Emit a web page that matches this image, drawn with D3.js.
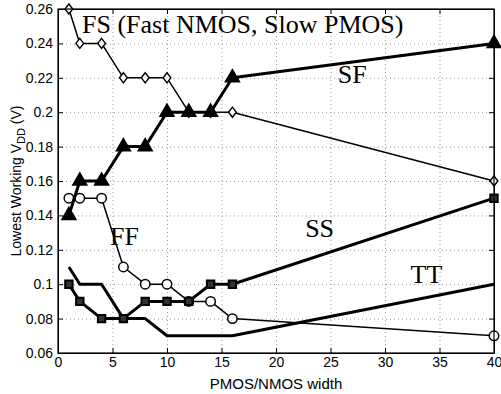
<!DOCTYPE html>
<html>
<head>
	<script src="https://d3js.org/d3.v7.min.js"></script>
	<style>
		body { margin: 0; background: #fff; }
		.tick text { font-family: "Liberation Sans", Arial, sans-serif; font-size: 14px; fill: #000; }
		.grid line { stroke: #999; stroke-dasharray: 1,3; }
		.lbl { font-family: "Liberation Serif", "Times New Roman", serif; fill: #000; }
	</style>
</head>
<body>
	<div class="chart"></div>
	<script>
		var w = 501, h = 394;
		var margin = {left: 58, right: 7, top: 9, bottom: 41};

		// data
		var widths = [1, 2, 4, 6, 8, 10, 12, 14, 16, 40];
		var fs = [0.26, 0.24, 0.24, 0.22, 0.22, 0.22, 0.20, 0.20, 0.20, 0.16];
		var sf = [0.14, 0.16, 0.16, 0.18, 0.18, 0.20, 0.20, 0.20, 0.22, 0.24];
		var ff = [0.15, 0.15, 0.15, 0.11, 0.10, 0.10, 0.09, 0.09, 0.08, 0.07];
		var ss = [0.10, 0.09, 0.08, 0.08, 0.09, 0.09, 0.09, 0.10, 0.10, 0.15];
		var tt = [0.11, 0.10, 0.10, 0.08, 0.08, 0.07, 0.07, 0.07, 0.07, 0.10];
		var xTicks = [0, 5, 10, 15, 20, 25, 30, 35, 40];
		var yTicks = [0.06, 0.08, 0.1, 0.12, 0.14, 0.16, 0.18, 0.2, 0.22, 0.24, 0.26];

		var svg = d3.select(".chart").append("svg")
			.attr("width", w)
			.attr("height", h);

		var x = d3.scaleLinear().domain([0, 40]).range([margin.left, w - margin.right]);
		var y = d3.scaleLinear().domain([0.06, 0.26]).range([h - margin.bottom, margin.top]);
		var pw = x(40) - x(0), ph = y(0.06) - y(0.26);

		// grid
		svg.append("g").attr("class", "grid")
			.attr("transform", "translate(0," + y(0.06) + ")")
			.call(d3.axisBottom(x).tickValues(xTicks).tickSize(-ph).tickFormat(""))
			.call(g => g.select(".domain").remove());
		svg.append("g").attr("class", "grid")
			.attr("transform", "translate(" + x(0) + ",0)")
			.call(d3.axisLeft(y).tickValues(yTicks).tickSize(-pw).tickFormat(""))
			.call(g => g.select(".domain").remove());

		// axes with inward ticks on all four sides
		var fmt = d3.format("");
		svg.append("g")
			.attr("transform", "translate(0," + y(0.06) + ")")
			.call(d3.axisBottom(x).tickValues(xTicks).tickSizeInner(-5).tickSizeOuter(0).tickPadding(4).tickFormat(fmt));
		svg.append("g")
			.attr("transform", "translate(0," + y(0.26) + ")")
			.call(d3.axisTop(x).tickValues(xTicks).tickSizeInner(-5).tickSizeOuter(0).tickFormat(""));
		svg.append("g")
			.attr("transform", "translate(" + x(0) + ",0)")
			.call(d3.axisLeft(y).tickValues(yTicks).tickSizeInner(-5).tickSizeOuter(0).tickPadding(5).tickFormat(fmt));
		svg.append("g")
			.attr("transform", "translate(" + x(40) + ",0)")
			.call(d3.axisRight(y).tickValues(yTicks).tickSizeInner(-5).tickSizeOuter(0).tickFormat(""));
		svg.selectAll(".domain").attr("stroke", "#000");

		var line = d3.line().x(d => x(d[0])).y(d => y(d[1]));
		function pts(vals) { return widths.map((v, i) => [v, vals[i]]); }

		function series(vals, lw, shape, size, fill, sw) {
			svg.append("path").datum(pts(vals))
				.attr("d", line)
				.attr("fill", "none")
				.attr("stroke", "#000")
				.attr("stroke-width", lw)
				.attr("stroke-linejoin", "round");
			if (!shape) return;
			svg.append("g").selectAll("path")
				.data(pts(vals))
				.enter().append("path")
				.attr("d", d3.symbol().type(shape).size(size))
				.attr("transform", d => "translate(" + x(d[0]) + "," + y(d[1]) + ")")
				.attr("fill", fill)
				.attr("stroke", "#000")
				.attr("stroke-width", sw);
		}

		var diamond = { draw: function(ctx, size) { var r = Math.sqrt(size) / 2; ctx.moveTo(0, -r * 1.3); ctx.lineTo(r, 0); ctx.lineTo(0, r * 1.3); ctx.lineTo(-r, 0); ctx.closePath(); } };

		series(tt, 3, null);
		series(ff, 1.5, d3.symbolCircle, 70, "#fff", 1.5);
		series(ss, 3, d3.symbolSquare, 55, "#333", 2);
		series(fs, 1.5, diamond, 60, "#fff", 1.4);
		series(sf, 3, d3.symbolTriangle, 85, "#000", 1.5);

		// frame
		svg.append("rect")
			.attr("x", x(0)).attr("y", y(0.26))
			.attr("width", pw).attr("height", ph)
			.attr("fill", "none").attr("stroke", "#000").attr("stroke-width", 1.2);

		// annotations
		var notes = [
			{t: "FS (Fast NMOS, Slow PMOS)", x: 2.2, y: 0.246, a: "start"},
			{t: "SF", x: 27.0, y: 0.217, a: "middle"},
			{t: "FF", x: 6.1, y: 0.1228, a: "middle"},
			{t: "SS", x: 24.0, y: 0.1274, a: "middle"},
			{t: "TT", x: 33.8, y: 0.1007, a: "middle"}
		];
		svg.append("g").selectAll("text")
			.data(notes)
			.enter().append("text")
			.attr("class", "lbl")
			.attr("x", d => x(d.x))
			.attr("y", d => y(d.y))
			.attr("text-anchor", d => d.a)
			.attr("font-size", 26)
			.text(d => d.t);

		// axis titles
		svg.append("text")
			.attr("x", x(20)).attr("y", 389)
			.attr("text-anchor", "middle")
			.attr("font-family", "Liberation Sans, Arial, sans-serif")
			.attr("font-size", 15)
			.text("PMOS/NMOS width");
		var yl = svg.append("text")
			.attr("transform", "translate(21," + y(0.16) + ") rotate(-90)")
			.attr("text-anchor", "middle")
			.attr("font-family", "Liberation Sans, Arial, sans-serif")
			.attr("font-size", 14);
		yl.append("tspan").text("Lowest Working V");
		yl.append("tspan").attr("font-size", 11).attr("dy", 4).text("DD");
		yl.append("tspan").attr("dy", -4).text(" (V)");
	</script>
</body>
</html>
